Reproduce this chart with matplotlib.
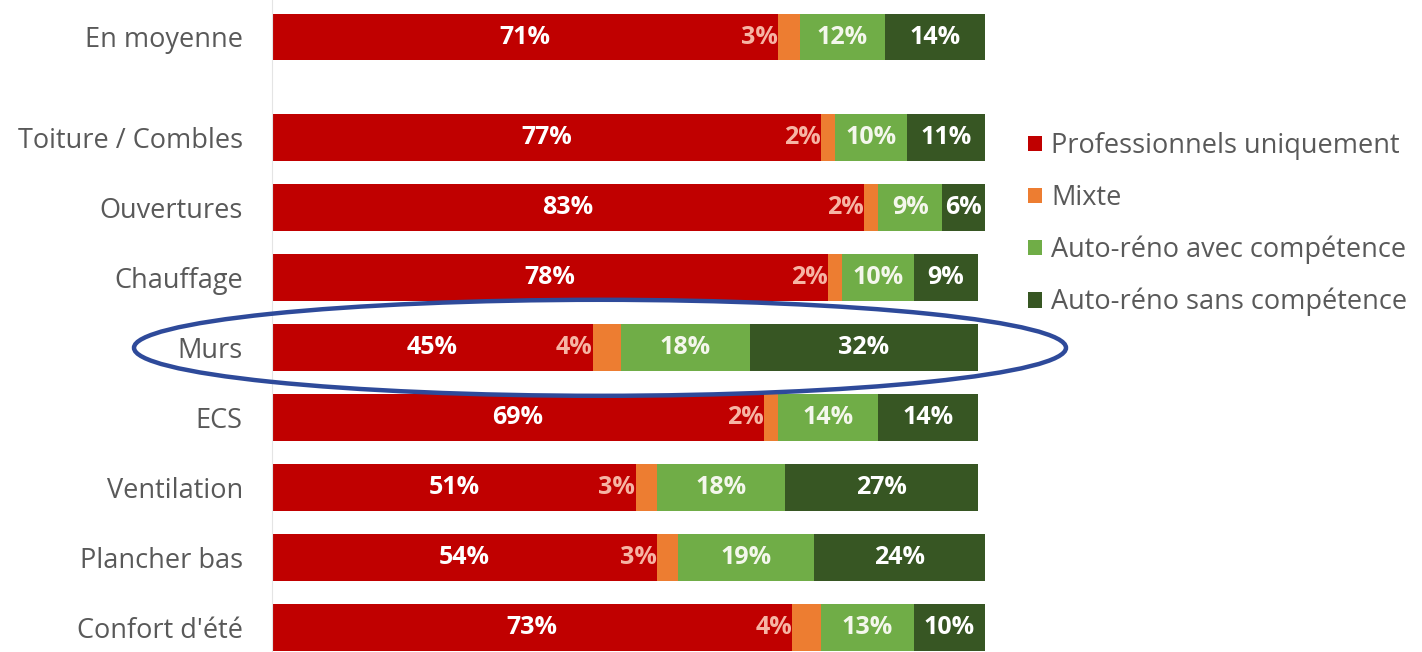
import matplotlib
matplotlib.use("Agg")
import matplotlib.pyplot as plt
from matplotlib.patches import Ellipse, Patch
import numpy as np

categories = ["En moyenne", "Toiture / Combles", "Ouvertures", "Chauffage", "Murs",
              "ECS", "Ventilation", "Plancher bas", "Confort d'été"]
pro = [71, 77, 83, 78, 45, 69, 51, 54, 73]
mixte = [3, 2, 2, 2, 4, 2, 3, 3, 4]
avec = [12, 10, 9, 10, 18, 14, 18, 19, 13]
sans = [14, 11, 6, 9, 32, 14, 27, 24, 10]
series_names = ["Professionnels uniquement", "Mixte", "Auto-réno avec compétence",
                "Auto-réno sans compétence"]
colors = ["#C00000", "#ED7D31", "#70AD47", "#375623"]
highlight = "Murs"

plt.rcParams['font.family'] = ['Open Sans', 'DejaVu Sans']

W, H = 1422, 652
fig = plt.figure(figsize=(W / 100, H / 100), dpi=100)
ax = fig.add_axes([272 / W, 0, (985 - 272) / W, 1])

ypos = np.array([0] + [1.44 + i for i in range(len(categories) - 1)])
bh = 0.67
series = [pro, mixte, avec, sans]
left = np.zeros(len(categories))
for vals, col, name in zip(series, colors, series_names):
    v = np.array(vals, dtype=float)
    ax.barh(ypos, v, left=left, height=bh, color=col, label=name, linewidth=0)
    left = left + v

# labels
left = np.zeros(len(categories))
for si, vals in enumerate(series):
    for i, v in enumerate(vals):
        if si == 1:
            ax.text(left[i] - 0.05, ypos[i], f"{v}%", ha="right", va="center",
                    color="#F6B4A4", fontsize=18, fontweight="bold")
        else:
            tc = "#FFFFFF" if si != 2 else "#F4F7EC"
            ax.text(left[i] + v / 2, ypos[i], f"{v}%", ha="center", va="center",
                    color=tc, fontsize=18, fontweight="bold")
    left = left + np.array(vals)

ax.set_xlim(0, 100)
top = -37 / 70
ax.set_ylim(top + H / 70, top)
ax.set_yticks(ypos)
ax.set_yticklabels(categories, fontsize=19.5, color="#595959")
ax.tick_params(axis="y", length=0, pad=21)
ax.set_xticks([])
for s in ["top", "right", "bottom"]:
    ax.spines[s].set_visible(False)
ax.spines["left"].set_color("#E4E4E4")
ax.spines["left"].set_linewidth(0.8)

# ellipse around highlighted row
hi = categories.index(highlight)
px = (985 - 272) / 100
ell = Ellipse(((600 - 272) / px, ypos[hi]), width=932 / px, height=96 / 70,
              fill=False, edgecolor="#2E4A9A", linewidth=3.2, clip_on=False, zorder=5)
ax.add_patch(ell)

handles = [Patch(facecolor=c, edgecolor="none") for c in colors]
fig.legend(handles, series_names, loc="upper left",
           bbox_to_anchor=(1028 / W, 1 - 132 / H), frameon=False, fontsize=19.5,
           handlelength=0.5, handleheight=0.5, handletextpad=0.35, labelspacing=0.88,
           labelcolor="#595959", borderaxespad=0, borderpad=0)

fig.savefig("out.png", dpi=100)
